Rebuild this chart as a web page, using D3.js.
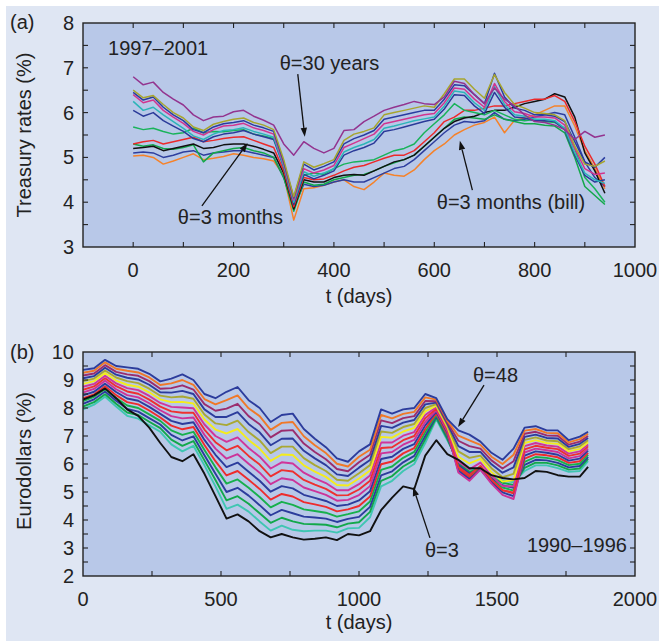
<!DOCTYPE html>
<html><head><meta charset="utf-8">
<script src="https://cdn.jsdelivr.net/npm/d3@7/dist/d3.min.js"></script>
<style>
html,body{margin:0;padding:0;background:#fff;}
svg{display:block;font-family:"Liberation Sans",Arial,Helvetica,sans-serif;}
</style></head><body>
<svg id="c" width="659" height="641"></svg>
<script>
// ---------- Panel (a): Treasury rates 1997-2001 ----------
const daysA = [0,20,40,60,80,100,120,140,160,180,200,220,240,260,280,300,320,340,360,380,400,420,440,460,480,500,520,540,560,580,600,620,640,660,680,700,720,740,760,780,800,820,840,860,880,900,920,940];
const tr30y = [6.80,6.62,6.68,6.45,6.30,6.17,5.95,5.82,5.90,5.92,6.02,6.05,5.92,5.83,5.72,5.30,5.05,5.35,5.20,5.10,5.20,5.60,5.62,5.80,5.92,6.05,6.12,6.18,6.25,6.20,6.18,6.35,6.70,6.65,6.40,6.20,6.55,6.30,6.15,5.95,5.80,5.78,5.72,5.62,5.40,5.58,5.45,5.50];
const tr20y = [6.50,6.33,6.38,6.18,6.00,5.88,5.68,5.60,5.74,5.80,5.85,5.88,5.78,5.72,5.62,4.95,4.12,4.90,4.78,4.86,4.95,5.38,5.52,5.58,5.66,5.95,6.00,6.05,6.10,6.15,6.12,6.42,6.75,6.75,6.52,6.32,6.85,6.45,6.18,6.10,6.00,5.98,5.95,5.82,5.25,4.85,4.80,4.92];
const tr10y = [6.45,6.28,6.35,6.12,5.95,5.82,5.62,5.55,5.68,5.75,5.78,5.82,5.72,5.66,5.58,4.90,4.10,4.85,4.72,4.80,4.90,5.30,5.42,5.50,5.60,5.85,5.90,5.95,6.00,6.05,6.05,6.30,6.62,6.60,6.40,6.20,6.88,6.35,6.10,6.05,5.95,5.95,5.92,5.80,5.35,4.90,4.78,5.00];
const tr7y  = [6.40,6.22,6.28,6.05,5.90,5.76,5.58,5.50,5.62,5.70,5.72,5.76,5.66,5.60,5.52,4.85,4.05,4.75,4.65,4.72,4.82,5.22,5.32,5.42,5.52,5.75,5.80,5.85,5.90,5.95,5.98,6.22,6.55,6.52,6.30,6.12,6.65,6.25,6.02,5.98,5.90,5.90,5.88,5.72,5.20,4.75,4.62,4.65];
const tr5y  = [6.25,6.05,6.12,5.95,5.80,5.65,5.48,5.40,5.52,5.60,5.62,5.66,5.58,5.52,5.45,4.80,4.00,4.68,4.58,4.65,4.75,5.12,5.22,5.30,5.40,5.65,5.70,5.76,5.82,5.86,5.90,6.15,6.48,6.45,6.22,6.05,6.58,6.18,5.95,5.92,5.85,5.85,5.82,5.65,5.10,4.65,4.50,4.42];
const tr3y  = [6.05,5.92,6.00,5.82,5.70,5.58,5.42,5.35,5.46,5.52,5.55,5.60,5.52,5.46,5.40,4.78,3.95,4.62,4.52,4.60,4.70,5.05,5.15,5.22,5.32,5.58,5.62,5.68,5.74,5.80,5.85,6.08,6.40,6.38,6.15,5.98,6.45,6.12,5.90,5.88,5.82,5.82,5.80,5.62,5.05,4.60,4.45,4.50];
const tr2y  = [5.68,5.62,5.65,5.58,5.52,5.55,5.65,5.55,5.58,5.57,5.60,5.62,5.52,5.48,5.42,4.85,3.98,4.60,4.65,4.62,4.75,4.85,4.90,4.92,4.95,5.05,5.15,5.20,5.30,5.55,5.75,5.95,6.20,6.05,6.00,5.95,6.05,5.95,5.85,5.82,5.85,5.80,5.78,5.65,5.20,4.55,4.30,4.00];
const tr1y  = [5.30,5.35,5.38,5.30,5.35,5.40,5.45,5.35,5.38,5.42,5.45,5.46,5.38,5.30,5.22,4.70,3.90,4.55,4.50,4.52,4.60,4.70,4.78,4.82,4.90,4.98,5.05,5.05,5.15,5.35,5.55,5.80,5.90,6.05,6.05,6.10,6.15,6.15,6.20,6.25,6.30,6.30,6.38,6.25,5.80,5.25,4.85,4.35];
const tr6m  = [5.20,5.22,5.25,5.15,5.20,5.25,5.30,5.20,5.22,5.28,5.30,5.30,5.25,5.18,5.10,4.65,3.85,4.50,4.45,4.45,4.55,4.60,4.62,4.60,4.70,4.80,4.90,4.95,5.05,5.25,5.45,5.65,5.80,5.88,5.92,6.00,6.05,6.05,6.12,6.20,6.25,6.30,6.42,6.35,5.90,5.10,4.70,4.20];
const tr3mA = [5.30,5.25,5.28,5.20,5.18,5.22,5.28,4.90,5.10,5.15,5.20,5.22,5.15,5.10,5.00,4.55,3.80,4.45,4.38,4.40,4.50,4.55,4.60,4.62,4.70,4.80,4.88,4.95,5.05,5.25,5.45,5.65,5.85,5.90,5.88,5.85,5.95,5.85,5.80,5.75,5.75,5.72,5.70,5.55,5.00,4.35,4.15,3.95];
const tr3mB = [5.10,5.12,5.10,5.00,5.05,5.12,5.15,5.05,5.10,5.12,5.15,5.15,5.10,5.05,5.00,4.55,3.88,4.40,4.35,4.38,4.45,4.50,4.45,4.45,4.55,4.65,4.75,4.80,4.95,5.15,5.35,5.55,5.72,5.80,5.78,5.82,6.00,5.85,5.82,5.85,5.90,5.95,6.00,5.95,5.45,4.90,4.55,4.35];
const tr3mBill = [5.03,5.05,5.00,4.85,4.92,5.00,5.08,4.95,4.98,5.02,5.08,5.05,5.00,4.97,4.92,4.60,3.60,4.30,4.32,4.38,4.45,4.50,4.35,4.28,4.45,4.65,4.60,4.58,4.72,4.95,5.15,5.30,5.50,5.62,5.72,5.78,5.90,5.55,5.83,5.88,5.95,6.05,6.15,6.15,5.70,5.15,4.75,4.30];
const xTicksA = [0,200,400,600,800,1000];
const yTicksA = [3,4,5,6,7,8];

// ---------- Panel (b): Eurodollar futures 1990-1996 ----------
const daysB = [0,40,80,120,160,200,240,280,320,360,400,440,480,520,560,600,640,680,720,760,800,840,880,920,960,1000,1040,1080,1120,1160,1200,1240,1280,1320,1360,1400,1440,1480,1520,1560,1600,1640,1680,1720,1760,1800,1830];
const euro03 = [8.30,8.45,8.70,8.35,7.95,7.72,7.30,6.75,6.25,6.10,6.35,5.65,4.85,4.05,4.20,3.95,3.60,3.38,3.50,3.38,3.30,3.33,3.38,3.28,3.50,3.45,3.60,4.35,4.80,5.20,5.10,6.30,6.85,6.35,6.15,5.85,5.85,5.60,5.50,5.45,5.50,5.75,5.72,5.60,5.55,5.55,5.90];
const euro06 = [7.95,8.12,8.40,8.05,7.72,7.62,7.38,7.15,6.70,6.45,6.65,5.95,5.20,4.40,4.55,4.30,3.95,3.62,3.80,3.65,3.60,3.62,3.62,3.55,3.70,3.72,4.10,5.20,5.40,5.75,6.00,6.75,7.60,6.85,6.09,5.79,5.84,5.56,5.41,5.35,5.75,5.95,5.95,5.85,5.72,5.75,6.10];
const euro09 = [8.05,8.21,8.49,8.15,7.84,7.75,7.51,7.28,6.87,6.65,6.82,6.13,5.43,4.70,4.85,4.58,4.24,3.90,4.08,3.95,3.86,3.85,3.83,3.74,3.87,3.92,4.29,5.40,5.57,5.91,6.14,6.88,7.65,6.90,6.02,5.72,5.84,5.51,5.33,5.25,5.86,6.05,6.04,5.95,5.80,5.84,6.18];
const euro12 = [8.15,8.31,8.59,8.26,7.97,7.87,7.64,7.41,7.04,6.84,6.99,6.31,5.65,5.00,5.15,4.87,4.53,4.17,4.36,4.24,4.12,4.09,4.05,3.93,4.04,4.11,4.47,5.59,5.74,6.06,6.29,7.00,7.71,6.96,5.96,5.66,5.83,5.47,5.24,5.15,5.97,6.15,6.13,6.04,5.88,5.93,6.25];
const euro15 = [8.25,8.40,8.68,8.36,8.09,8.00,7.77,7.54,7.20,7.04,7.15,6.50,5.88,5.30,5.45,5.15,4.82,4.45,4.65,4.54,4.38,4.32,4.26,4.12,4.21,4.31,4.66,5.79,5.91,6.22,6.43,7.13,7.76,7.01,5.89,5.59,5.82,5.43,5.16,5.05,6.08,6.25,6.22,6.14,5.96,6.01,6.33];
const euro18 = [8.35,8.49,8.78,8.46,8.21,8.13,7.91,7.66,7.37,7.24,7.32,6.68,6.10,5.59,5.75,5.44,5.11,4.73,4.93,4.84,4.64,4.56,4.47,4.31,4.38,4.50,4.84,5.99,6.09,6.38,6.57,7.25,7.81,7.06,5.83,5.53,5.81,5.39,5.07,4.95,6.19,6.35,6.31,6.24,6.04,6.10,6.40];
const euro21 = [8.45,8.58,8.87,8.57,8.34,8.26,8.04,7.79,7.54,7.43,7.49,6.86,6.33,5.89,6.05,5.72,5.40,5.01,5.21,5.13,4.90,4.79,4.68,4.50,4.55,4.70,5.03,6.18,6.26,6.54,6.71,7.38,7.87,7.12,5.76,5.46,5.81,5.34,4.99,4.85,6.30,6.45,6.40,6.33,6.12,6.19,6.48];
const euro24 = [8.55,8.68,8.97,8.67,8.46,8.38,8.17,7.92,7.71,7.63,7.66,7.04,6.55,6.19,6.35,6.01,5.69,5.28,5.49,5.43,5.16,5.03,4.90,4.69,4.72,4.89,5.21,6.38,6.43,6.69,6.86,7.50,7.92,7.17,5.70,5.40,5.80,5.30,4.90,4.75,6.41,6.55,6.49,6.43,6.20,6.28,6.55];
const euro27 = [8.65,8.77,9.06,8.78,8.59,8.51,8.30,8.05,7.88,7.83,7.83,7.23,6.78,6.49,6.65,6.29,5.98,5.56,5.78,5.73,5.43,5.26,5.11,4.88,4.89,5.09,5.40,6.57,6.60,6.85,7.00,7.63,7.98,7.23,5.89,5.61,5.93,5.44,5.06,4.98,6.52,6.65,6.58,6.53,6.29,6.37,6.63];
const euro30 = [8.76,8.86,9.15,8.88,8.71,8.64,8.43,8.18,8.04,8.02,7.99,7.41,7.00,6.79,6.95,6.57,6.26,5.84,6.06,6.02,5.69,5.49,5.32,5.06,5.06,5.28,5.59,6.77,6.77,7.01,7.14,7.75,8.03,7.28,6.08,5.81,6.05,5.58,5.21,5.20,6.64,6.75,6.66,6.62,6.37,6.45,6.70];
const euro33 = [8.86,8.96,9.25,8.98,8.83,8.76,8.56,8.31,8.21,8.22,8.16,7.59,7.23,7.09,7.25,6.86,6.55,6.11,6.34,6.32,5.95,5.73,5.54,5.25,5.23,5.48,5.77,6.97,6.94,7.16,7.29,7.88,8.08,7.33,6.26,6.02,6.18,5.71,5.37,5.43,6.75,6.85,6.75,6.72,6.45,6.54,6.78];
const euro36 = [8.96,9.05,9.34,9.09,8.96,8.89,8.69,8.44,8.38,8.41,8.33,7.77,7.45,7.39,7.55,7.14,6.84,6.39,6.62,6.62,6.21,5.96,5.75,5.44,5.40,5.67,5.96,7.16,7.11,7.32,7.43,8.00,8.14,7.39,6.45,6.22,6.30,5.85,5.53,5.65,6.86,6.95,6.84,6.81,6.53,6.63,6.85];
const euro39 = [9.06,9.14,9.44,9.19,9.08,9.02,8.83,8.56,8.55,8.61,8.50,7.95,7.68,7.68,7.85,7.43,7.13,6.67,6.90,6.91,6.47,6.20,5.96,5.63,5.57,5.87,6.14,7.36,7.29,7.48,7.57,8.13,8.19,7.44,6.64,6.43,6.43,5.99,5.69,5.88,6.97,7.05,6.93,6.91,6.61,6.72,6.93];
const euro42 = [9.16,9.23,9.53,9.29,9.20,9.15,8.96,8.69,8.71,8.81,8.66,8.14,7.90,7.98,8.15,7.71,7.42,6.95,7.19,7.21,6.73,6.43,6.17,5.82,5.74,6.06,6.33,7.56,7.46,7.64,7.71,8.25,8.24,7.49,6.83,6.64,6.55,6.13,5.84,6.10,7.08,7.15,7.02,7.01,6.69,6.80,7.00];
const euro45 = [9.26,9.33,9.63,9.40,9.33,9.27,9.09,8.82,8.88,9.00,8.83,8.32,8.13,8.28,8.45,7.99,7.71,7.22,7.47,7.50,6.99,6.67,6.39,6.01,5.91,6.26,6.51,7.75,7.63,7.79,7.86,8.38,8.30,7.55,7.01,6.84,6.68,6.26,6.00,6.33,7.19,7.25,7.11,7.10,6.77,6.89,7.08];
const euro48 = [9.36,9.42,9.72,9.50,9.45,9.40,9.22,8.95,9.05,9.20,9.00,8.50,8.35,8.58,8.75,8.28,8.00,7.50,7.75,7.80,7.25,6.90,6.60,6.20,6.08,6.45,6.70,7.95,7.80,7.95,8.00,8.50,8.35,7.60,7.20,7.05,6.80,6.40,6.15,6.55,7.30,7.35,7.20,7.20,6.85,6.98,7.15];
const xTicksB = [0,500,1000,1500,2000];
const yTicksB = [2,3,4,5,6,7,8,9,10];

// ---------- annotations (data units) ----------
const annotA = [
  {text:"1997\u20132001", t:-50, v:7.29},
  {text:"\u03b8=30 years", t:292, v:6.95},
  {text:"\u03b8=3 months", t:89, v:3.51},
  {text:"\u03b8=3 months (bill)", t:605, v:3.85}
];
const arrowsA = [
  {t0:328, v0:6.86, t1:342, v1:5.46},
  {t0:137, v0:3.92, t1:228, v1:5.32},
  {t0:676, v0:4.27, t1:651, v1:5.37}
];
const annotB = [
  {text:"\u03b8=48", t:1413, v:8.93, anchor:"start"},
  {text:"\u03b8=3", t:1239, v:2.68, anchor:"start"},
  {text:"1990\u20131996", t:1971, v:2.86, anchor:"end"}
];
const arrowsB = [
  {t0:1453, v0:8.82, t1:1359, v1:7.32},
  {t0:1257, v0:3.36, t1:1196, v1:5.18}
];

// ---------- styling ----------
const CARD_BG = "#dfe6f3", PLOT_BG = "#b8c8e8", INK = "#222";
const FONT = 20;
const svg = d3.select("#c");
svg.append("rect").attr("x",6).attr("y",6).attr("width",653).attr("height",635).attr("fill",CARD_BG);

const seriesA = [
  {v:tr3mBill, c:"#f5822a"}, {v:tr3mB, c:"#2e3f9e"}, {v:tr3mA, c:"#13a84a"},
  {v:tr6m, c:"#111111"}, {v:tr1y, c:"#ec2a2a"}, {v:tr2y, c:"#19b35a"},
  {v:tr3y, c:"#2b3a99"}, {v:tr5y, c:"#2cb5b8"}, {v:tr7y, c:"#d1358f"},
  {v:tr10y, c:"#2a3c9f"}, {v:tr20y, c:"#a7a52e"}, {v:tr30y, c:"#93348f"}
];
const euroAll = [euro03,euro06,euro09,euro12,euro15,euro18,euro21,euro24,euro27,euro30,euro33,euro36,euro39,euro42,euro45,euro48];
const euroColors = ["#111111","#3fc6b2","#12a84a","#2c3c9c","#17b04c","#ee2c2c","#2c3c9c","#cc3399","#ee3030","#d0359a","#f4ec1c","#a9a833","#2c3c9c","#9b2d6e","#f07828","#2c3c9c"];

function panel(cfg){
  const {x, y, id} = cfg;
  const [x0,x1] = x.range(), [yb,yt] = y.range();
  svg.append("rect").attr("x",x0).attr("y",yt).attr("width",x1-x0).attr("height",yb-yt).attr("fill",PLOT_BG);
  svg.append("clipPath").attr("id",id).append("rect").attr("x",x0).attr("y",yt).attr("width",x1-x0).attr("height",yb-yt);
  const g = svg.append("g").attr("clip-path",`url(#${id})`);
  const line = d3.line().x((d,i)=>x(cfg.days[i])).y(d=>y(d));
  cfg.series.forEach(s=>{
    g.append("path").attr("d",line(s.v)).attr("fill","none").attr("stroke",s.c)
      .attr("stroke-width",cfg.lw).attr("stroke-linejoin","round");
  });
  // ticks inward on all four sides
  const tk = svg.append("g").attr("stroke",INK).attr("stroke-width",1.1);
  const L = 5;
  cfg.xMinor.forEach(t=>{
    const px = x(t);
    if (px<=x0+0.5 || px>=x1-0.5) return;
    tk.append("line").attr("x1",px).attr("x2",px).attr("y1",yb).attr("y2",yb-L);
    tk.append("line").attr("x1",px).attr("x2",px).attr("y1",yt).attr("y2",yt+L);
  });
  cfg.yMinor.forEach(v=>{
    const py = y(v);
    if (py>=yb-0.5 || py<=yt+0.5) return;
    tk.append("line").attr("x1",x0).attr("x2",x0+L).attr("y1",py).attr("y2",py);
    tk.append("line").attr("x1",x1).attr("x2",x1-L).attr("y1",py).attr("y2",py);
  });
  svg.append("rect").attr("x",x0).attr("y",yt).attr("width",x1-x0).attr("height",yb-yt)
    .attr("fill","none").attr("stroke",INK).attr("stroke-width",1.4);
  // labels
  const lab = svg.append("g").attr("fill",INK).attr("font-size",FONT);
  cfg.xLabels.forEach(t=>{
    lab.append("text").attr("x",x(t)).attr("y",yb+30).attr("text-anchor","middle").text(t);
  });
  cfg.yLabels.forEach(v=>{
    lab.append("text").attr("x",x0-9).attr("y",y(v)+7).attr("text-anchor","end").text(v);
  });
  lab.append("text").attr("x",(x0+x1)/2).attr("y",yb+cfg.xTitleDy).attr("text-anchor","middle").text("t (days)");
  lab.append("text").attr("transform",`translate(31,${(yb+yt)/2 + cfg.yTitleShift}) rotate(-90)`)
    .attr("text-anchor","middle").text(cfg.yTitle);
  lab.append("text").attr("x",10).attr("y",yt+cfg.tagDy).text(cfg.tag);
  // annotations
  cfg.annot.forEach(a=>{
    lab.append("text").attr("x",x(a.t)).attr("y",y(a.v)).attr("text-anchor",a.anchor||"start").text(a.text);
  });
  cfg.arrows.forEach(a=>{
    const X0=x(a.t0),Y0=y(a.v0),X1=x(a.t1),Y1=y(a.v1);
    const ang=Math.atan2(Y1-Y0,X1-X0), hl=9, hw=3.2;
    const bx=X1-hl*Math.cos(ang), by=Y1-hl*Math.sin(ang);
    svg.append("line").attr("x1",X0).attr("y1",Y0).attr("x2",bx).attr("y2",by)
      .attr("stroke","#111").attr("stroke-width",1.3);
    const p=[[X1,Y1],[bx+hw*Math.sin(ang),by-hw*Math.cos(ang)],[bx-hw*Math.sin(ang),by+hw*Math.cos(ang)]];
    svg.append("path").attr("d","M"+p.map(q=>q.join(",")).join("L")+"Z").attr("fill","#111");
  });
}

const xA = d3.scaleLinear().domain([-100,1000]).range([83,635]);
const yA = d3.scaleLinear().domain([3,8]).range([247,23]);
panel({id:"clipA", x:xA, y:yA, days:daysA, series:seriesA, lw:1.5,
  xMinor:d3.range(-100,1001,100), yMinor:d3.range(3,8.01,0.5),
  xLabels:xTicksA, yLabels:yTicksA, xTitleDy:56, yTitle:"Treasury rates (%)", yTitleShift:0,
  tag:"(a)", tagDy:6, annot:annotA, arrows:arrowsA});

const xB = d3.scaleLinear().domain([0,2000]).range([83,635]);
const yB = d3.scaleLinear().domain([2,10]).range([576,352]);
const seriesB = euroAll.map((v,i)=>({v, c:euroColors[i]})).slice(1).concat([{v:euro03,c:euroColors[0]}]);
panel({id:"clipB", x:xB, y:yB, days:daysB, series:seriesB, lw:1.9,
  xMinor:d3.range(0,2001,250), yMinor:d3.range(2,10.01,0.5),
  xLabels:xTicksB, yLabels:yTicksB, xTitleDy:53, yTitle:"Eurodollars (%)", yTitleShift:-3,
  tag:"(b)", tagDy:7, annot:annotB, arrows:arrowsB});
</script>
</body></html>
